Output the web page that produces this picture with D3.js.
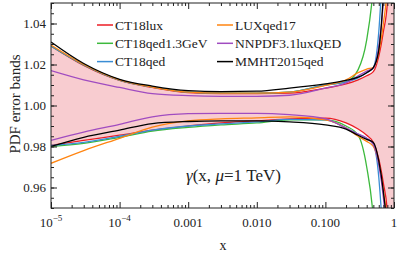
<!DOCTYPE html>
<meta charset="utf-8">
<style>
  body { margin: 0; background: #fff; }
  svg { font-family: 'Liberation Serif', 'DejaVu Serif', serif; fill: #222; }
  .axis path { display: none; }
  .axis line { stroke: #222; }
</style>
<body>
<svg id="chart"></svg>
<script src="https://cdn.jsdelivr.net/npm/d3@7"></script>
<script>
// x grid shared by every set
var xGrid = [1e-5, 3e-5, 1e-4, 3e-4, 1e-3, 3e-3, 1e-2, 3e-2, 0.1, 0.2, 0.3, 0.4, 0.5, 0.6, 0.7, 0.8, 0.9, 1.0];

var setNames = ["CT18lux", "CT18qed1.3GeV", "CT18qed", "LUXqed17", "NNPDF3.1luxQED", "MMHT2015qed"];
var setColors = ["#ec1c24", "#3cb93c", "#3a8dd4", "#ff8410", "#a04cc0", "#000000"];

// upper / lower edges of the error band, ratio to central value
var ct18luxUp   = [1.029, 1.0195, 1.0122, 1.0088, 1.0063, 1.0058, 1.0058, 1.0060, 1.0085, 1.0105, 1.0125, 1.0145, 1.0165, 1.024, 1.036, 1.050, 1.10, 1.20];
var ct18luxDn   = [0.9805, 0.983, 0.9855, 0.988, 0.990, 0.9915, 0.9925, 0.9935, 0.9938, 0.9915, 0.9885, 0.9855, 0.982, 0.974, 0.962, 0.948, 0.90, 0.80];
var ct18qed13Up = [1.029, 1.0198, 1.0124, 1.009, 1.0065, 1.006, 1.006, 1.0065, 1.0100, 1.0115, 1.0175, 1.032, 1.058, 1.10, 1.15, 1.20, 1.25, 1.30];
var ct18qed13Dn = [0.980, 0.9815, 0.9845, 0.9875, 0.9893, 0.9905, 0.9915, 0.993, 0.993, 0.990, 0.9855, 0.970, 0.945, 0.90, 0.85, 0.80, 0.75, 0.70];
var ct18qedUp   = [1.029, 1.0198, 1.0124, 1.009, 1.0065, 1.006, 1.006, 1.0065, 1.0100, 1.0115, 1.0135, 1.016, 1.0185, 1.036, 1.075, 1.12, 1.20, 1.30];
var ct18qedDn   = [0.9805, 0.982, 0.985, 0.988, 0.990, 0.991, 0.992, 0.9932, 0.993, 0.989, 0.986, 0.984, 0.981, 0.965, 0.930, 0.88, 0.80, 0.70];
var luxUp       = [1.0295, 1.020, 1.0125, 1.009, 1.0065, 1.006, 1.006, 1.0065, 1.0098, 1.0125, 1.0160, 1.0178, 1.0185, 1.026, 1.040, 1.060, 1.12, 1.20];
var luxDn       = [0.9718, 0.978, 0.984, 0.9895, 0.9925, 0.9935, 0.994, 0.9945, 0.993, 0.989, 0.985, 0.9825, 0.980, 0.972, 0.958, 0.940, 0.88, 0.80];
var nnpdfUp     = [1.017, 1.0125, 1.0088, 1.0058, 1.0048, 1.0045, 1.0045, 1.0050, 1.0085, 1.011, 1.0145, 1.0168, 1.0183, 1.029, 1.050, 1.09, 1.15, 1.25];
var nnpdfDn     = [0.983, 0.987, 0.9908, 0.9945, 0.996, 0.9962, 0.9962, 0.9955, 0.9935, 0.989, 0.986, 0.984, 0.981, 0.971, 0.955, 0.93, 0.87, 0.75];
var mmhtUp      = [1.031, 1.0205, 1.0128, 1.0095, 1.0073, 1.0068, 1.0070, 1.0085, 1.0106, 1.0122, 1.0138, 1.0160, 1.0185, 1.027, 1.055, 1.10, 1.18, 1.30];
var mmhtDn      = [0.980, 0.9845, 0.988, 0.9912, 0.9922, 0.9925, 0.9925, 0.992, 0.9905, 0.9885, 0.9855, 0.9835, 0.982, 0.973, 0.958, 0.935, 0.88, 0.75];

var upper = [ct18luxUp, ct18qed13Up, ct18qedUp, luxUp, nnpdfUp, mmhtUp];
var lower = [ct18luxDn, ct18qed13Dn, ct18qedDn, luxDn, nnpdfDn, mmhtDn];

var yTicks = [0.96, 0.98, 1.00, 1.02, 1.04];
var xTicks = [1e-5, 1e-4, 1e-3, 1e-2, 1e-1, 1];
var xTickText = ["10", "10", "0.001", "0.010", "0.100", "1"];
var xTickSup = ["−5", "−4", "", "", "", ""];

var W = 399, H = 256;
var margin = { top: 3, right: 5, bottom: 48, left: 51 };
var w = W - margin.left - margin.right, h = H - margin.top - margin.bottom;

var svg = d3.select("#chart").attr("width", W).attr("height", H);
var g = svg.append("g").attr("transform", "translate(" + margin.left + "," + margin.top + ")");

var x = d3.scaleLog().domain([1e-5, 1]).range([0, w]);
var y = d3.scaleLinear().domain([0.95, 1.05]).range([h, 0]);

g.append("clipPath").attr("id", "clip")
  .append("rect").attr("width", w).attr("height", h);

var plot = g.append("g").attr("clip-path", "url(#clip)");

// pink band = CT18lux
var area = d3.area()
  .x(function (d, i) { return x(xGrid[i]); })
  .y0(function (d, i) { return y(ct18luxDn[i]); })
  .y1(function (d) { return y(d); })
  .curve(d3.curveMonotoneX);
plot.append("path").datum(ct18luxUp).attr("d", area).attr("fill", "#f8ccd0");

var line = d3.line()
  .x(function (d, i) { return x(xGrid[i]); })
  .y(function (d) { return y(d); })
  .curve(d3.curveMonotoneX);

setNames.forEach(function (name, k) {
  [upper[k], lower[k]].forEach(function (arr) {
    plot.append("path").datum(arr).attr("d", line)
      .attr("fill", "none").attr("stroke", setColors[k]).attr("stroke-width", 1.3);
  });
});

// minor ticks
var xMinor = [];
for (var e = -5; e < 0; e++) for (var m = 2; m < 10; m++) xMinor.push(m * Math.pow(10, e));
var yMinor = d3.range(0.95, 1.0501, 0.005);

function addTicks(axisFn, scale, vals, size, tr) {
  g.append("g").attr("class", "axis").attr("transform", tr)
    .call(axisFn(scale).tickValues(vals).tickSize(size).tickFormat(""));
}
addTicks(d3.axisBottom, x, xMinor, -3, "translate(0," + h + ")");
addTicks(d3.axisTop, x, xMinor, -3, "translate(0,0)");
addTicks(d3.axisBottom, x, xTicks, -6, "translate(0," + h + ")");
addTicks(d3.axisTop, x, xTicks, -6, "translate(0,0)");
addTicks(d3.axisLeft, y, yMinor, -3, "translate(0,0)");
addTicks(d3.axisRight, y, yMinor, -3, "translate(" + w + ",0)");
addTicks(d3.axisLeft, y, yTicks, -6, "translate(0,0)");
addTicks(d3.axisRight, y, yTicks, -6, "translate(" + w + ",0)");

// frame
g.append("rect").attr("width", w).attr("height", h)
  .attr("fill", "none").attr("stroke", "#222").attr("stroke-width", 1);

// tick labels
g.selectAll(".ylab").data(yTicks).enter().append("text")
  .attr("x", -5).attr("y", function (d) { return y(d) + 4.5; })
  .attr("text-anchor", "end").attr("font-size", 13)
  .text(function (d) { return d.toFixed(2); });

var xl = g.selectAll(".xlab").data(xTicks).enter().append("text")
  .attr("x", function (d) { return x(d); }).attr("y", h + 19)
  .attr("text-anchor", "middle").attr("font-size", 13);
xl.append("tspan").text(function (d, i) { return xTickText[i]; });
xl.append("tspan").attr("dy", -6).attr("font-size", 9)
  .text(function (d, i) { return xTickSup[i]; });

// axis titles
svg.append("text").attr("x", 223).attr("y", 250).attr("text-anchor", "middle")
  .attr("font-size", 14).text("x");
svg.append("text").attr("transform", "translate(20,104) rotate(-90)")
  .attr("text-anchor", "middle").attr("font-size", 15).text("PDF error bands");

// annotation
var ann = svg.append("text").attr("x", 186).attr("y", 181).attr("font-size", 17);
ann.append("tspan").attr("font-style", "italic").text("γ");
ann.append("tspan").text("(x, ");
ann.append("tspan").attr("font-style", "italic").text("μ");
ann.append("tspan").text("=1 TeV)");

// legend, two columns of three
var leg = svg.append("g");
setNames.forEach(function (name, k) {
  var col = Math.floor(k / 3), row = k % 3;
  var lx = 97 + col * 120, ly = 25 + row * 18.3;
  leg.append("line").attr("x1", lx).attr("x2", lx + 16).attr("y1", ly).attr("y2", ly)
    .attr("stroke", setColors[k]).attr("stroke-width", 1.5);
  leg.append("text").attr("x", lx + 18).attr("y", ly + 4.5).attr("font-size", 13.5).text(name);
});
</script>
</body>
